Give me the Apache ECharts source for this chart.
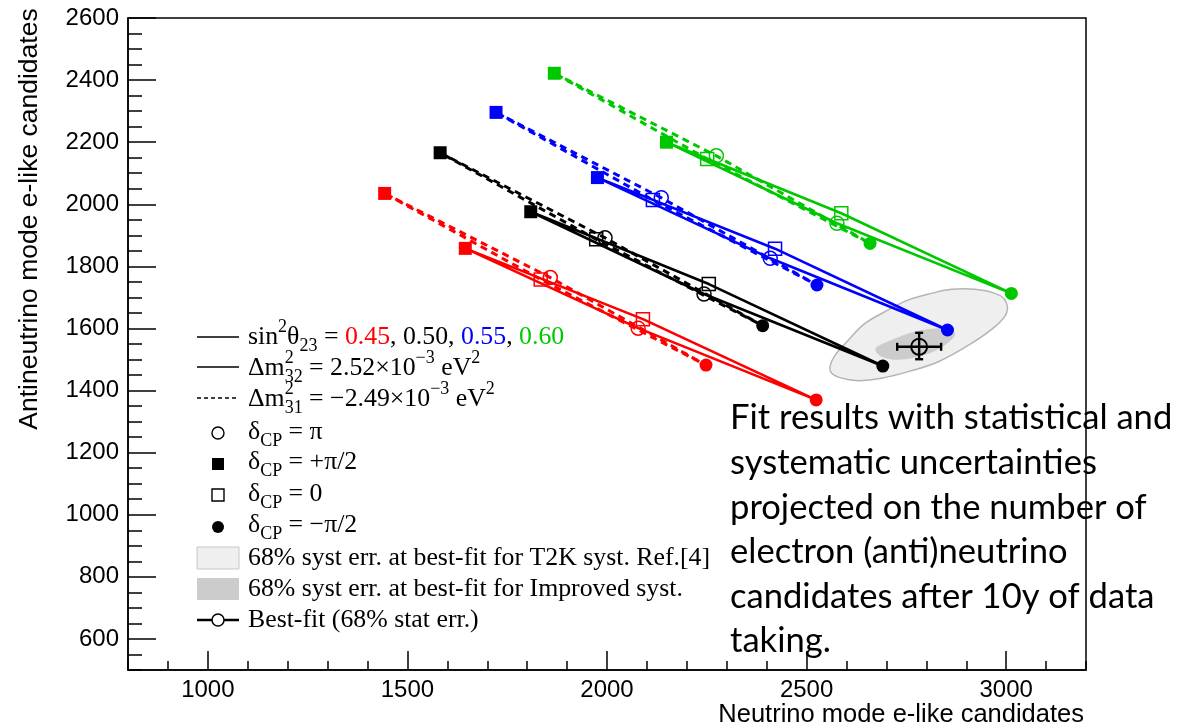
<!DOCTYPE html>
<html>
<head>
<meta charset="utf-8">
<script src="https://cdn.jsdelivr.net/npm/echarts@6/dist/echarts.min.js"></script>
<style>html,body{margin:0;padding:0;background:#fff;}#chart{width:1196px;height:728px;}</style>
</head>
<body>
<div id="chart"></div>
<script>
// ---------------- DATA ----------------
// Each ellipse: predicted (nu-mode, antinu-mode) e-like candidates at
// deltaCP = +pi/2, pi, -pi/2, 0
const nh045 = [[1645,1858],[2078,1601],[2524,1370],[2090,1630]];
const nh050 = [[1809,1976],[2243,1711],[2691,1479],[2255,1743]];
const nh055 = [[1976,2086],[2409,1826],[2853,1595],[2421,1857]];
const nh060 = [[2149,2200],[2576,1939],[3013,1713],[2587,1971]];
const ih045 = [[1443,2035],[1858,1764],[2248,1482],[1834,1758]];
const ih050 = [[1582,2166],[1995,1892],[2390,1609],[1973,1887]];
const ih055 = [[1722,2296],[2136,2021],[2526,1740],[2115,2014]];
const ih060 = [[1868,2422],[2274,2156],[2659,1874],[2251,2146]];
const sin2Labels = ['0.45','0.50','0.55','0.60'];

// best fit [x, y, xLow, xHigh, yLow, yHigh]
const bestFit = [2782, 1541, 2727, 2837, 1501, 1586];

// 68% syst contours
const systT2K = [[2559,1479],[2563,1456],[2588,1440],[2630,1432],[2688,1440],[2755,1461],[2830,1493],
  [2913,1552],[2972,1606],[3001,1649],[2997,1692],[2972,1713],[2922,1726],[2863,1726],[2813,1713],
  [2755,1692],[2705,1660],[2647,1617],[2605,1563],[2572,1515]];
const systImproved = [[2672,1531],[2688,1509],[2730,1499],[2797,1515],[2847,1547],[2872,1579],
  [2863,1595],[2830,1601],[2772,1590],[2713,1563],[2680,1544]];

const xMajor = [1000,1500,2000,2500,3000];
const yMajor = [600,800,1000,1200,1400,1600,1800,2000,2200,2400,2600];

const annoLines = ['Fit results with statistical and','systematic uncertainties','projected on the number of','electron (anti)neutrino','candidates after 10y of data','taking.'];

// ---------------- STYLE ----------------
const RED='#ff0000', BLACK='#000000', BLUE='#0000ff', GREEN='#00c800';
const SANS='"Liberation Sans", Arial, sans-serif';
const SERIF='"Liberation Serif", "Times New Roman", serif';
const groups = [
  {c:RED, nh:nh045, ih:ih045},
  {c:BLACK, nh:nh050, ih:ih050},
  {c:BLUE, nh:nh055, ih:ih055},
  {c:GREEN, nh:nh060, ih:ih060}
];

const series = [];
function polySeries(pts, fill, stroke, z){
  return {type:'custom', z:z, silent:true, data:[pts[0]],
    renderItem:function(params, api){
      return {type:'polygon', shape:{points:pts.map(p=>api.coord(p)), smooth:0.35},
        style:{fill:fill, stroke:stroke, lineWidth:stroke==='none'?0:1.5}};
    }};
}
series.push(polySeries(systT2K,'#efefef','#b4b4b4',1));
series.push(polySeries(systImproved,'#cccccc','none',1));

groups.forEach(g=>{
  [['nh','solid'],['ih','dashed']].forEach(([k,ls])=>{
    const p = g[k];
    series.push({type:'line', z:3, data:[p[0],p[1],p[2],p[3],p[0]], showSymbol:false, symbol:'none',
      lineStyle:{color:g.c, width: ls==='solid'?2.6:3, type: ls==='solid'?'solid':[7,5], opacity:1}, silent:true});
    series.push({type:'scatter', z:4, data:[p[0]], symbol:'rect', symbolSize:13, itemStyle:{color:g.c, opacity:1}, silent:true});
    series.push({type:'scatter', z:4, data:[p[2]], symbol:'circle', symbolSize:13, itemStyle:{color:g.c, opacity:1}, silent:true});
    series.push({type:'scatter', z:4, data:[p[1]], symbol:'circle', symbolSize:14, silent:true,
      itemStyle:{color:'rgba(0,0,0,0)', borderColor:g.c, borderWidth:1.5, opacity:1}});
    series.push({type:'scatter', z:4, data:[p[3]], symbol:'rect', symbolSize:13, silent:true,
      itemStyle:{color:'rgba(0,0,0,0)', borderColor:g.c, borderWidth:1.5, opacity:1}});
  });
});

// best fit with error bars
series.push({type:'custom', z:6, data:[bestFit], silent:true,
  renderItem:function(params, api){
    const c = api.coord([api.value(0), api.value(1)]);
    const l = api.coord([api.value(2), api.value(1)]);
    const r = api.coord([api.value(3), api.value(1)]);
    const b = api.coord([api.value(0), api.value(4)]);
    const t = api.coord([api.value(0), api.value(5)]);
    const st = {stroke:'#000', lineWidth:2.4};
    const cap = 4;
    return {type:'group', children:[
      {type:'line', shape:{x1:l[0],y1:l[1],x2:r[0],y2:r[1]}, style:st},
      {type:'line', shape:{x1:b[0],y1:b[1],x2:t[0],y2:t[1]}, style:st},
      {type:'line', shape:{x1:l[0],y1:l[1]-cap,x2:l[0],y2:l[1]+cap}, style:st},
      {type:'line', shape:{x1:r[0],y1:r[1]-cap,x2:r[0],y2:r[1]+cap}, style:st},
      {type:'line', shape:{x1:b[0]-cap,y1:b[1],x2:b[0]+cap,y2:b[1]}, style:st},
      {type:'line', shape:{x1:t[0]-cap,y1:t[1],x2:t[0]+cap,y2:t[1]}, style:st},
      {type:'circle', shape:{cx:c[0],cy:c[1],r:8}, style:{fill:'none',stroke:'#000',lineWidth:2}}
    ]};
  }});

// ---------------- LEGEND / TEXT GRAPHICS ----------------
const ctx = document.createElement('canvas').getContext('2d');
function tw(text, size, fam){ ctx.font = size+'px '+fam; return ctx.measureText(text).width; }
const graphics = [];
const MAIN=25.8, SMALL=18;
function row(x0, yc, pieces){
  let x = x0, prevX = x0, prevW = 0;
  pieces.forEach(p=>{
    const size = (p.sup||p.sub)?SMALL:MAIN;
    const dy = p.sup?-10:(p.sub?9:0);
    const w = tw(p.t, size, SERIF);
    let px = x;
    if (p.stack){ px = prevX; x = prevX + Math.max(prevW, w); }
    else { x = x + w; }
    graphics.push({type:'text', x:px, y:yc+dy, silent:true,
      style:{text:p.t, font:size+'px '+SERIF, fill:p.c||'#000', align:'left', verticalAlign:'middle'}});
    prevX = px; prevW = w;
  });
}
const LX = 248;
row(LX, 337, [{t:'sin'},{t:'2',sup:1},{t:'θ'},{t:'23',sub:1},{t:' = '},{t:sin2Labels[0],c:RED},{t:', '+sin2Labels[1]+', '},{t:sin2Labels[2],c:BLUE},{t:', '},{t:sin2Labels[3],c:GREEN}]);
row(LX, 368, [{t:'Δm'},{t:'2',sup:1},{t:'32',sub:1,stack:1},{t:' = 2.52×10'},{t:'−3',sup:1},{t:' eV'},{t:'2',sup:1}]);
row(LX, 399, [{t:'Δm'},{t:'2',sup:1},{t:'31',sub:1,stack:1},{t:' = −2.49×10'},{t:'−3',sup:1},{t:' eV'},{t:'2',sup:1}]);
row(LX, 432, [{t:'δ'},{t:'CP',sub:1},{t:' = π'}]);
row(LX, 462, [{t:'δ'},{t:'CP',sub:1},{t:' = +π/2'}]);
row(LX, 494, [{t:'δ'},{t:'CP',sub:1},{t:' = 0'}]);
row(LX, 525, [{t:'δ'},{t:'CP',sub:1},{t:' = −π/2'}]);
row(LX, 558, [{t:'68% syst err. at best-fit for T2K syst. Ref.[4]'}]);
row(LX, 589, [{t:'68% syst err. at best-fit for Improved syst.'}]);
row(LX, 620, [{t:'Best-fit (68% stat err.)'}]);

graphics.push({type:'line', shape:{x1:197,y1:337,x2:239,y2:337}, style:{stroke:'#000',lineWidth:1.5}});
graphics.push({type:'line', shape:{x1:197,y1:367,x2:239,y2:367}, style:{stroke:'#000',lineWidth:1.5}});
graphics.push({type:'line', shape:{x1:197,y1:398,x2:239,y2:398}, style:{stroke:'#000',lineWidth:1.5,lineDash:[4,3]}});
graphics.push({type:'circle', shape:{cx:218,cy:433,r:6}, style:{fill:'none',stroke:'#000',lineWidth:1.4}});
graphics.push({type:'rect', shape:{x:212,y:458,width:12,height:12}, style:{fill:'#000'}});
graphics.push({type:'rect', shape:{x:212,y:489,width:12,height:12}, style:{fill:'none',stroke:'#000',lineWidth:1.4}});
graphics.push({type:'circle', shape:{cx:218,cy:527,r:6}, style:{fill:'#000'}});
graphics.push({type:'rect', shape:{x:197,y:547,width:42,height:22}, style:{fill:'#efefef',stroke:'#c8c8c8',lineWidth:1}});
graphics.push({type:'rect', shape:{x:197,y:578,width:42,height:22}, style:{fill:'#cccccc'}});
graphics.push({type:'line', shape:{x1:197,y1:620,x2:239,y2:620}, style:{stroke:'#000',lineWidth:2.5}});
graphics.push({type:'circle', shape:{cx:218,cy:620,r:6}, style:{fill:'#fff',stroke:'#000',lineWidth:1.5}});

// axis titles
graphics.push({type:'text', x:30, y:219, rotation:Math.PI/2, silent:true,
  style:{text:'Antineutrino mode e-like candidates', font:'26.5px '+SANS, fill:'#000', align:'center', verticalAlign:'middle'}});
graphics.push({type:'text', x:1084, y:715, silent:true,
  style:{text:'Neutrino mode e-like candidates', font:'25.5px '+SANS, fill:'#000', align:'right', verticalAlign:'middle'}});

// annotation
const ANNO_FAM = 'Lato, "Open Sans", sans-serif';
const annoSize = 36 * 442 / tw(annoLines[0], 36, ANNO_FAM);
graphics.push({type:'text', x:730, y:396, silent:true, z:100,
  style:{text:annoLines.join('\n'), font:annoSize.toFixed(1)+'px '+ANNO_FAM, lineHeight:44.6, fill:'#000', align:'left', verticalAlign:'top'}});

// ---------------- CHART ----------------
const axisLineStyle = {color:'#000', width:1.5};
const plainNum = v => String(v);
const option = {
  animation:false,
  backgroundColor:'#ffffff',
  grid:{left:128, right:110, top:18, bottom:58, show:true, borderColor:'#000', borderWidth:1.5, backgroundColor:'rgba(0,0,0,0)', containLabel:false, outerBoundsMode:'none'},
  xAxis:[
    {type:'value', min:800, max:3200, position:'bottom',
     axisLine:{show:true, onZero:false, lineStyle:axisLineStyle},
     axisTick:{show:true, inside:true, length:19, customValues:xMajor, lineStyle:axisLineStyle},
     axisLabel:{customValues:xMajor, formatter:plainNum, fontSize:24, fontFamily:SANS, color:'#000', margin:8},
     splitLine:{show:false}},
    {type:'value', min:800, max:3200, interval:100, position:'bottom', gridIndex:0,
     axisLine:{show:false, onZero:false},
     axisTick:{show:true, inside:true, length:9, lineStyle:axisLineStyle},
     axisLabel:{show:false}, splitLine:{show:false}}
  ],
  yAxis:[
    {type:'value', min:500, max:2600, position:'left',
     axisLine:{show:true, onZero:false, lineStyle:axisLineStyle},
     axisTick:{show:true, inside:true, length:28, customValues:yMajor, lineStyle:axisLineStyle},
     axisLabel:{customValues:yMajor, formatter:plainNum, fontSize:24, fontFamily:SANS, color:'#000', margin:9},
     splitLine:{show:false}},
    {type:'value', min:500, max:2600, interval:50, position:'left', gridIndex:0,
     axisLine:{show:false, onZero:false},
     axisTick:{show:true, inside:true, length:14, lineStyle:axisLineStyle},
     axisLabel:{show:false}, splitLine:{show:false}}
  ],
  series: series,
  graphic: graphics
};
const chart = echarts.init(document.getElementById('chart'), null, {renderer:'canvas'});
chart.setOption(option);
</script>
</body>
</html>
